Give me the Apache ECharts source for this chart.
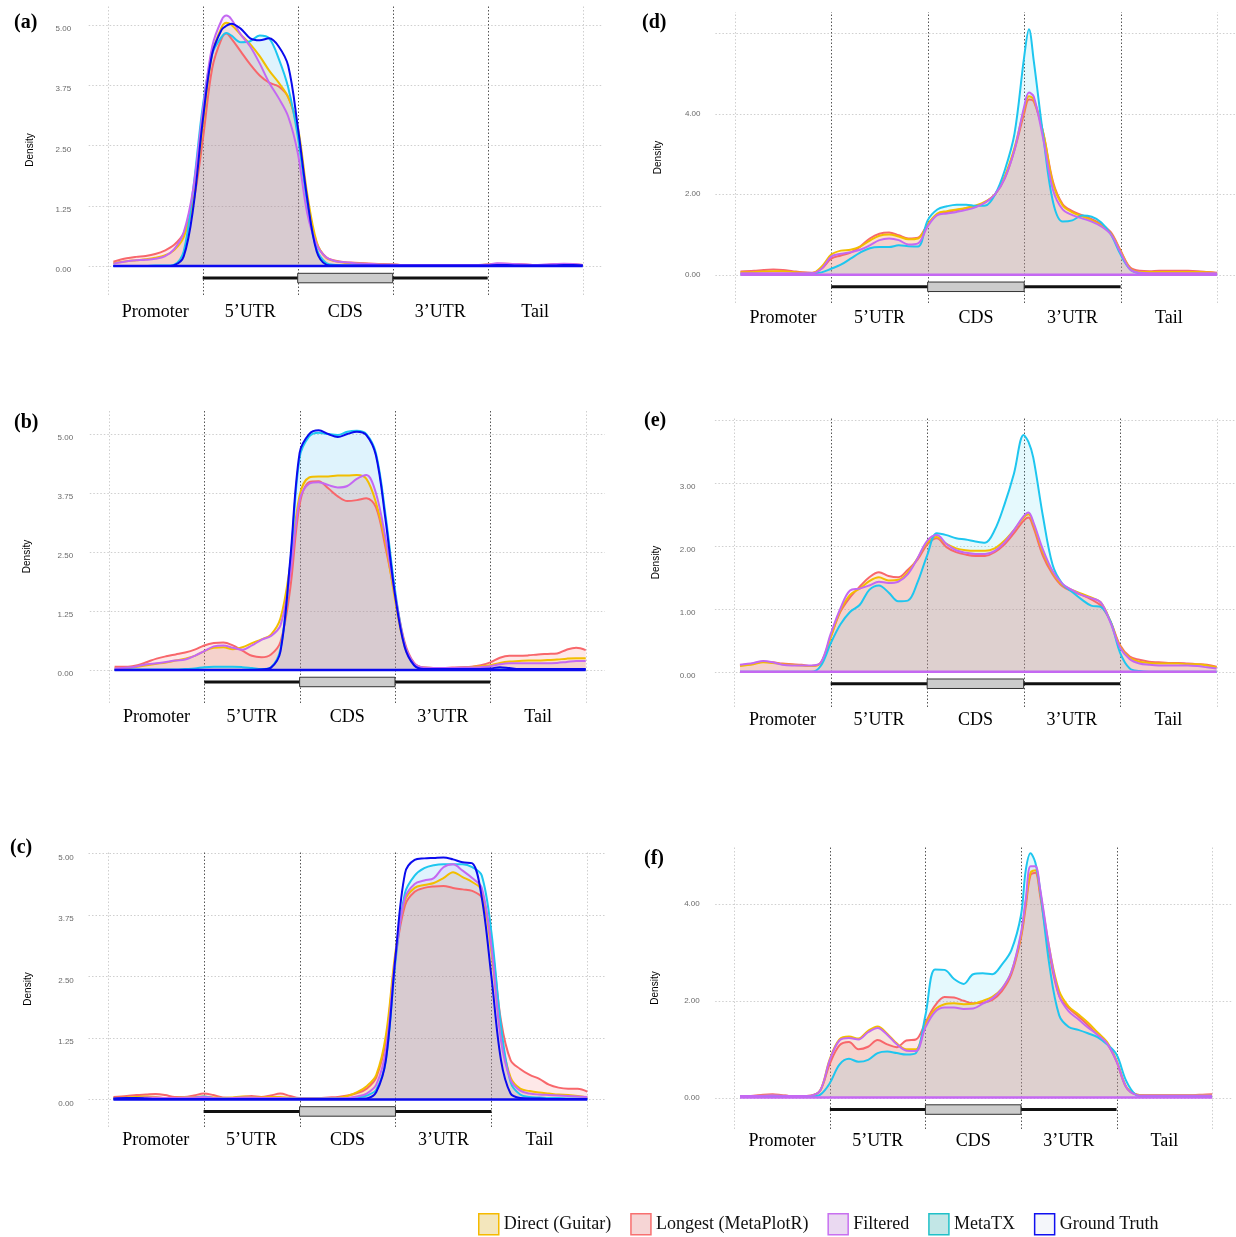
<!DOCTYPE html>
<html><head><meta charset="utf-8">
<script src="https://cdn.jsdelivr.net/npm/echarts@6/dist/echarts.min.js"></script>
<style>html,body{margin:0;padding:0;background:#fff}#c{width:1236px;height:1237px}</style>
</head><body><div id="c"></div>
<script>
// ---------------- data ----------------
const categories = ['Promoter', '5’UTR', 'CDS', '3’UTR', 'Tail'];
const categoryCenters = [0.5, 1.5, 2.5, 3.5, 4.5];
const regionBounds = [0, 1, 2, 3, 4, 5];
const transcriptSpan = [1, 4];
const cdsSpan = [2, 3];

const yTicksABC = [0, 1.25, 2.5, 3.75, 5];
const yGridD = [0, 2, 4, 6];
const yTicksD = [0, 2, 4];
const yGridE = [0, 1, 2, 3, 4];
const yTicksE = [0, 1, 2, 3];
const yTicksF = [0, 2, 4];

const xBase = [0.06,0.2,0.3,0.4,0.5,0.6,0.7,0.8,0.9,1.0,1.1,1.2,1.3,1.4,1.5,1.6,1.7,1.8,1.9,2.0,2.1,2.2,2.3,2.4,2.5,2.6,2.7,2.8,2.9,3.0,3.1,3.2,3.3,3.4,3.5,3.6,3.7,3.8,3.9,4.0,4.1,4.2,4.3,4.4,4.5,4.6,4.7,4.8,4.9,5.0];
const xA = [0.06,0.2,0.3,0.4,0.5,0.6,0.7,0.8,0.9,1.0,1.1,1.2,1.25,1.3,1.4,1.5,1.6,1.7,1.8,1.9,2.0,2.1,2.2,2.3,2.4,2.5,2.6,2.7,2.8,2.9,3.0,3.1,3.2,3.3,3.4,3.5,3.6,3.7,3.8,3.9,4.0,4.1,4.2,4.3,4.4,4.5,4.6,4.7,4.8,4.9,5.0];
const xDE = [0.06,0.2,0.3,0.4,0.5,0.6,0.7,0.8,0.9,1.0,1.1,1.2,1.3,1.4,1.5,1.6,1.7,1.8,1.9,2.0,2.1,2.2,2.3,2.4,2.5,2.6,2.7,2.8,2.9,3.0,3.05,3.1,3.2,3.3,3.4,3.5,3.6,3.7,3.8,3.9,4.0,4.1,4.2,4.3,4.4,4.5,4.6,4.7,4.8,4.9,5.0];
const xF = [0.06,0.2,0.3,0.4,0.5,0.6,0.7,0.8,0.9,1.0,1.1,1.2,1.3,1.4,1.5,1.6,1.7,1.8,1.9,2.0,2.1,2.2,2.3,2.4,2.5,2.6,2.7,2.8,2.9,3.0,3.05,3.1,3.15,3.2,3.3,3.4,3.5,3.6,3.7,3.8,3.9,4.0,4.1,4.2,4.3,4.4,4.5,4.6,4.7,4.8,4.9,5.0];

// (a)
const aLongest = [0.09,0.16,0.19,0.21,0.25,0.32,0.44,0.68,1.3,2.6,4.1,4.72,4.82,4.72,4.45,4.18,3.95,3.8,3.72,3.5,2.82,1.37,0.47,0.18,0.11,0.08,0.07,0.06,0.05,0.04,0.03,0.02,0.02,0.02,0.02,0.02,0.02,0.02,0.02,0.02,0.03,0.05,0.05,0.04,0.03,0.02,0.02,0.03,0.04,0.03,0.02];
const aDirect = [0.06,0.1,0.12,0.14,0.17,0.22,0.33,0.6,1.3,2.9,4.4,4.95,5.04,5.0,4.8,4.6,4.35,4.05,3.8,3.5,2.9,1.5,0.5,0.17,0.1,0.07,0.06,0.05,0.04,0.03,0.03,0.02,0.02,0.02,0.02,0.02,0.02,0.02,0.02,0.02,0.03,0.04,0.04,0.03,0.02,0.02,0.02,0.03,0.03,0.03,0.02];
const aMetaTX = [0,0,0,0,0.01,0.01,0.03,0.3,1.6,3.3,4.4,4.75,4.83,4.78,4.64,4.66,4.78,4.72,4.3,3.7,2.7,1.3,0.35,0.06,0.02,0.01,0.01,0.01,0.01,0.01,0.01,0.01,0.01,0.01,0.01,0.01,0.01,0.01,0.01,0.01,0.01,0.01,0.01,0.01,0.01,0.01,0.01,0.01,0.01,0.01,0.01];
const aFiltered = [0.05,0.1,0.12,0.13,0.15,0.2,0.35,0.7,1.6,3.2,4.55,5.1,5.19,5.12,4.8,4.55,4.2,3.8,3.48,3.1,2.35,1.1,0.45,0.18,0.1,0.08,0.06,0.05,0.04,0.03,0.03,0.02,0.02,0.02,0.02,0.02,0.02,0.02,0.02,0.02,0.03,0.06,0.05,0.04,0.03,0.02,0.03,0.04,0.05,0.04,0.02];
const aGround = [0,0,0,0,0,0,0.02,0.2,1.2,3.0,4.4,4.9,4.98,5.02,4.92,4.72,4.68,4.72,4.55,4.15,2.9,1.4,0.3,0.03,0.01,0.01,0.01,0.01,0.01,0.01,0.01,0.01,0.01,0.01,0.01,0.01,0.01,0.01,0.01,0.01,0.01,0.02,0.02,0.01,0.01,0.01,0.01,0.01,0.02,0.02,0.01];
// (b)
const bLongest = [0.07,0.07,0.1,0.17,0.24,0.29,0.33,0.37,0.43,0.52,0.57,0.58,0.52,0.41,0.3,0.27,0.33,0.6,1.7,3.5,3.98,4.0,3.85,3.68,3.58,3.6,3.64,3.45,2.6,1.6,0.6,0.15,0.05,0.04,0.04,0.05,0.06,0.07,0.1,0.16,0.26,0.3,0.3,0.31,0.33,0.34,0.35,0.43,0.47,0.42];
const bDirect = [0.03,0.04,0.07,0.1,0.13,0.16,0.2,0.24,0.3,0.4,0.47,0.48,0.44,0.48,0.57,0.65,0.75,1.1,2.2,3.7,4.08,4.1,4.1,4.12,4.12,4.13,4.05,3.55,2.7,1.5,0.5,0.13,0.05,0.04,0.04,0.04,0.05,0.06,0.08,0.1,0.15,0.18,0.19,0.2,0.2,0.21,0.22,0.24,0.25,0.25];
const bMetaTX = [0.01,0.01,0.01,0.01,0.01,0.01,0.01,0.02,0.03,0.06,0.07,0.07,0.07,0.06,0.04,0.02,0.06,0.45,2.2,4.5,4.95,5.03,5.0,4.98,5.05,5.07,5.0,4.6,3.3,1.7,0.55,0.12,0.03,0.01,0.01,0.01,0.01,0.01,0.01,0.01,0.01,0.01,0.01,0.01,0.01,0.01,0.01,0.01,0.01,0.01];
const bFiltered = [0.03,0.05,0.08,0.12,0.14,0.17,0.2,0.22,0.3,0.4,0.5,0.52,0.47,0.43,0.52,0.64,0.72,0.95,2.0,3.6,3.95,3.98,3.92,3.87,3.9,4.05,4.13,3.75,2.8,1.6,0.55,0.14,0.05,0.04,0.04,0.04,0.05,0.05,0.06,0.08,0.12,0.14,0.14,0.14,0.14,0.14,0.15,0.17,0.19,0.19];
const bGround = [0,0,0,0,0,0,0,0,0,0,0,0,0,0,0,0.01,0.05,0.4,2.3,4.6,5.0,5.08,5.0,4.94,5.0,5.05,4.98,4.55,3.2,1.6,0.5,0.1,0.02,0.02,0.02,0.02,0.02,0.02,0.02,0.03,0.06,0.04,0.02,0.02,0.02,0.02,0.02,0.02,0.02,0.02];
// (c)
const cLongest = [0.05,0.07,0.09,0.1,0.11,0.09,0.05,0.05,0.08,0.12,0.09,0.04,0.03,0.05,0.07,0.05,0.08,0.12,0.07,0.03,0.03,0.03,0.04,0.05,0.08,0.13,0.22,0.45,1.2,2.9,3.95,4.22,4.3,4.33,4.34,4.3,4.27,4.24,4.1,3.2,1.6,0.8,0.62,0.5,0.42,0.3,0.24,0.22,0.22,0.16];
const cDirect = [0.03,0.04,0.05,0.06,0.05,0.03,0.03,0.05,0.05,0.06,0.04,0.03,0.04,0.06,0.05,0.04,0.05,0.05,0.03,0.02,0.02,0.02,0.02,0.03,0.07,0.15,0.27,0.5,1.3,3.0,4.05,4.3,4.36,4.4,4.5,4.62,4.52,4.42,4.25,3.0,1.3,0.45,0.22,0.17,0.14,0.12,0.1,0.09,0.07,0.04];
const cMetaTX = [0.01,0.01,0.02,0.02,0.02,0.02,0.02,0.02,0.03,0.06,0.03,0.02,0.02,0.02,0.02,0.02,0.02,0.02,0.02,0.02,0.02,0.02,0.02,0.02,0.02,0.04,0.08,0.2,0.8,2.8,4.2,4.55,4.7,4.76,4.78,4.78,4.78,4.72,4.55,3.4,1.5,0.35,0.1,0.05,0.04,0.03,0.03,0.02,0.02,0.02];
const cFiltered = [0.02,0.03,0.03,0.04,0.04,0.03,0.03,0.04,0.04,0.05,0.03,0.02,0.03,0.04,0.04,0.03,0.03,0.03,0.02,0.02,0.02,0.02,0.02,0.02,0.03,0.06,0.12,0.3,1.0,2.9,4.1,4.38,4.45,4.5,4.72,4.78,4.65,4.5,4.3,3.1,1.2,0.4,0.18,0.12,0.1,0.09,0.08,0.07,0.06,0.05];
const cGround = [0.02,0.03,0.03,0.02,0.01,0.01,0.01,0.01,0.01,0.01,0.01,0.01,0.01,0.01,0.01,0.01,0.01,0.01,0.01,0.01,0.01,0.01,0.01,0.01,0.01,0.01,0.02,0.15,0.8,2.9,4.6,4.87,4.9,4.91,4.92,4.88,4.82,4.8,4.1,2.5,0.8,0.12,0.03,0.02,0.02,0.01,0.01,0.01,0.01,0.01];
// (d)
const dLongest = [0.08,0.1,0.12,0.13,0.12,0.09,0.06,0.05,0.15,0.4,0.48,0.55,0.7,0.9,1.02,1.05,0.98,0.9,0.92,1.25,1.5,1.56,1.6,1.65,1.7,1.8,2.0,2.4,3.1,4.0,4.35,4.3,3.5,2.3,1.75,1.58,1.48,1.38,1.25,1.05,0.6,0.18,0.1,0.09,0.1,0.1,0.1,0.1,0.09,0.07,0.05];
const dDirect = [0.06,0.07,0.08,0.09,0.09,0.07,0.05,0.04,0.2,0.5,0.6,0.62,0.7,0.85,0.97,1.0,0.95,0.88,0.9,1.25,1.52,1.58,1.62,1.66,1.72,1.82,2.0,2.45,3.15,4.1,4.43,4.35,3.5,2.25,1.72,1.55,1.45,1.35,1.22,1.02,0.58,0.15,0.07,0.07,0.07,0.07,0.07,0.07,0.07,0.06,0.04];
const dMetaTX = [0.02,0.02,0.02,0.02,0.02,0.02,0.02,0.03,0.06,0.15,0.25,0.4,0.55,0.66,0.69,0.69,0.73,0.71,0.7,1.35,1.62,1.7,1.74,1.74,1.71,1.72,2.0,2.6,3.5,5.4,6.09,5.3,3.4,1.8,1.32,1.35,1.47,1.44,1.3,1.0,0.5,0.13,0.03,0.01,0.01,0.01,0.01,0.01,0.01,0.01,0.01];
const dFiltered = [0.04,0.04,0.04,0.04,0.04,0.04,0.04,0.04,0.15,0.45,0.52,0.56,0.62,0.73,0.86,0.9,0.86,0.75,0.78,1.2,1.48,1.52,1.56,1.61,1.68,1.8,2.0,2.4,3.1,4.17,4.52,4.42,3.34,2.1,1.62,1.48,1.4,1.32,1.2,1.0,0.55,0.13,0.05,0.04,0.04,0.04,0.04,0.04,0.04,0.04,0.04];
// (e)
const eLongest = [0.1,0.13,0.16,0.15,0.13,0.12,0.11,0.09,0.15,0.55,0.95,1.18,1.35,1.5,1.58,1.52,1.5,1.62,1.78,2.02,2.12,1.98,1.9,1.86,1.84,1.84,1.9,2.02,2.2,2.4,2.45,2.3,1.84,1.55,1.36,1.28,1.22,1.15,1.05,0.8,0.42,0.24,0.19,0.16,0.15,0.14,0.14,0.13,0.12,0.11,0.08];
const eDirect = [0.09,0.12,0.15,0.14,0.12,0.11,0.1,0.09,0.14,0.55,0.97,1.22,1.32,1.44,1.5,1.45,1.46,1.58,1.8,2.05,2.14,2.03,1.96,1.93,1.92,1.92,1.96,2.08,2.25,2.45,2.5,2.35,1.9,1.58,1.38,1.3,1.24,1.18,1.1,0.8,0.4,0.22,0.16,0.14,0.13,0.13,0.13,0.12,0.12,0.1,0.07];
const eMetaTX = [0,0,0,0,0,0,0,0,0.1,0.45,0.75,0.95,1.06,1.3,1.37,1.26,1.12,1.13,1.42,1.85,2.2,2.17,2.12,2.1,2.07,2.05,2.25,2.65,3.15,3.76,3.65,3.4,2.47,1.7,1.4,1.27,1.15,1.05,1.03,0.8,0.3,0.05,0.01,0,0,0,0,0,0,0,0];
const eFiltered = [0.11,0.14,0.17,0.15,0.11,0.1,0.1,0.1,0.15,0.6,1.0,1.29,1.32,1.37,1.43,1.41,1.43,1.55,1.8,2.08,2.17,2.03,1.93,1.89,1.87,1.87,1.92,2.05,2.25,2.47,2.53,2.38,1.94,1.6,1.4,1.3,1.22,1.17,1.1,0.78,0.38,0.2,0.13,0.11,0.1,0.1,0.1,0.1,0.09,0.07,0.05];
// (f)
const fLongest = [0.03,0.04,0.06,0.07,0.05,0.03,0.03,0.04,0.15,0.7,1.08,1.15,1.0,1.05,1.19,1.1,1.04,1.18,1.2,1.55,1.9,2.08,2.07,2.0,1.95,1.96,2.02,2.2,2.55,3.3,3.95,4.6,4.65,4.18,2.95,2.1,1.85,1.68,1.5,1.3,1.12,0.75,0.22,0.07,0.05,0.05,0.05,0.05,0.05,0.05,0.06,0.07];
const fDirect = [0.03,0.03,0.04,0.05,0.04,0.03,0.03,0.04,0.15,0.8,1.2,1.26,1.22,1.38,1.47,1.32,1.12,1.0,1.0,1.5,1.82,1.93,1.95,1.93,1.94,2.0,2.08,2.25,2.6,3.35,4.05,4.65,4.7,4.25,3.05,2.2,1.88,1.72,1.55,1.35,1.15,0.77,0.23,0.07,0.05,0.05,0.05,0.05,0.05,0.05,0.05,0.05];
const fMetaTX = [0.02,0.02,0.02,0.02,0.02,0.02,0.02,0.02,0.06,0.3,0.68,0.8,0.74,0.78,0.92,0.95,0.92,0.89,0.92,1.7,2.65,2.64,2.45,2.35,2.55,2.57,2.55,2.75,3.05,3.77,4.7,5.05,4.86,4.3,2.7,1.7,1.46,1.4,1.33,1.25,1.1,0.89,0.35,0.06,0.02,0.02,0.02,0.02,0.02,0.02,0.02,0.02];
const fFiltered = [0.03,0.03,0.04,0.05,0.04,0.03,0.03,0.04,0.15,0.78,1.18,1.23,1.2,1.35,1.44,1.3,1.1,0.97,0.96,1.45,1.77,1.86,1.86,1.83,1.84,1.94,2.05,2.25,2.6,3.4,4.1,4.78,4.78,4.32,3.05,2.1,1.78,1.62,1.45,1.3,1.12,0.75,0.22,0.06,0.04,0.04,0.04,0.04,0.04,0.04,0.04,0.04];

// ---------------- styling ----------------
const SERIES = {
  Direct:   {name: 'Direct (Guitar)',     line: '#F2BE00', fill: 'rgba(242,190,0,0.20)',  key: '#F3E6BC', border: '#F5BA00'},
  Longest:  {name: 'Longest (MetaPlotR)', line: '#F8676B', fill: 'rgba(248,103,107,0.22)', key: '#F6D5D5', border: '#F87070'},
  Filtered: {name: 'Filtered',            line: '#C468F2', fill: 'rgba(196,104,242,0.18)', key: '#EAD9F1', border: '#C870F0'},
  MetaTX:   {name: 'MetaTX',              line: '#1EC6EF', fill: 'rgba(30,198,239,0.16)',  key: '#C2E6E6', border: '#20C0C8'},
  Ground:   {name: 'Ground Truth',        line: '#0A0AEE', fill: 'rgba(10,10,238,0.03)',   key: '#F4F6FA', border: '#1010F0'}
};
const DRAW_ORDER = ['Longest', 'Direct', 'MetaTX', 'Filtered', 'Ground'];
const LEGEND_ORDER = ['Direct', 'Longest', 'Filtered', 'MetaTX', 'Ground'];
const X_EXT = [-0.2, 5.2];

const panels = [
  {label: '(a)', x: xA, d: {Longest: aLongest, Direct: aDirect, MetaTX: aMetaTX, Filtered: aFiltered, Ground: aGround},
   grid: {left: 88.7, top: 5, width: 513, height: 290}, yMin: -0.60, yMax: 5.41, hGrid: yTicksABC, yLab: yTicksABC,
   shift: true, lblMargin: 17.6, nameGap: 53, xMargin: 8, title: [14, 13], base: 'Ground'},
  {label: '(b)', x: xBase, d: {Longest: bLongest, Direct: bDirect, MetaTX: bMetaTX, Filtered: bFiltered, Ground: bGround},
   grid: {left: 89.8, top: 410, width: 515, height: 293}, yMin: -0.70, yMax: 5.51, hGrid: yTicksABC, yLab: yTicksABC,
   shift: true, lblMargin: 16.7, nameGap: 58, xMargin: 5, title: [14, 413], base: 'Ground'},
  {label: '(c)', x: xBase, d: {Longest: cLongest, Direct: cDirect, MetaTX: cMetaTX, Filtered: cFiltered, Ground: cGround},
   grid: {left: 88.5, top: 851, width: 518, height: 276}, yMin: -0.56, yMax: 5.05, hGrid: yTicksABC, yLab: yTicksABC,
   shift: true, lblMargin: 14.7, nameGap: 55, xMargin: 4, title: [10, 838], base: 'Ground'},
  {label: '(d)', x: xDE, d: {Longest: dLongest, Direct: dDirect, MetaTX: dMetaTX, Filtered: dFiltered},
   grid: {left: 715.4, top: 12, width: 521, height: 291}, yMin: -0.70, yMax: 6.52, hGrid: yGridD, yLab: yTicksD,
   shift: false, lblMargin: 14.9, nameGap: 52, xMargin: 6, title: [642, 13], base: 'Filtered'},
  {label: '(e)', x: xDE, d: {Longest: eLongest, Direct: eDirect, MetaTX: eMetaTX, Filtered: eFiltered},
   grid: {left: 714.9, top: 418, width: 521, height: 289}, yMin: -0.56, yMax: 4.03, hGrid: yGridE, yLab: yTicksE,
   shift: true, lblMargin: 19.5, nameGap: 54, xMargin: 4, title: [644, 411], base: 'Filtered'},
  {label: '(f)', x: xF, d: {Longest: fLongest, Direct: fDirect, MetaTX: fMetaTX, Filtered: fFiltered},
   grid: {left: 715.2, top: 847, width: 516, height: 282}, yMin: -0.65, yMax: 5.18, hGrid: yTicksF, yLab: yTicksF,
   shift: false, lblMargin: 15.5, nameGap: 55, xMargin: 3, title: [644, 849], base: 'Filtered'}
];

const grids = [], xAxes = [], yAxes = [], series = [], titles = [];

function backgroundRender(p) {
  return function (params, api) {
    const kids = [];
    p.hGrid.forEach(v => {
      const a = api.coord([X_EXT[0], v]), b = api.coord([X_EXT[1], v]);
      const y = Math.round(a[1]) + 0.5;
      kids.push({type: 'line', shape: {x1: a[0], y1: y, x2: b[0], y2: y},
        style: {stroke: '#cfcfcf', lineWidth: 1, lineDash: [1.5, 2]}});
    });
    regionBounds.forEach((v, i) => {
      const a = api.coord([v, p.yMin]), b = api.coord([v, p.yMax]);
      const x = Math.round(a[0]) + 0.5;
      const inner = i > 0 && i < regionBounds.length - 1;
      kids.push({type: 'line', shape: {x1: x, y1: a[1], x2: x, y2: b[1]},
        style: {stroke: inner ? '#555555' : '#cfcfcf', lineWidth: 1, lineDash: [1.5, 2]}});
    });
    return {type: 'group', children: kids};
  };
}

function foregroundRender(p) {
  return function (params, api) {
    const z0 = api.coord([0, 0])[1];
    const b0 = api.coord([p.x[0], 0])[0], b1 = api.coord([p.x[p.x.length - 1], 0])[0];
    const gy = z0 + 12;
    const t0 = api.coord([transcriptSpan[0], 0])[0], t1 = api.coord([transcriptSpan[1], 0])[0];
    const c0 = api.coord([cdsSpan[0], 0])[0], c1 = api.coord([cdsSpan[1], 0])[0];
    return {type: 'group', children: [
      {type: 'line', shape: {x1: b0, y1: z0, x2: b1, y2: z0}, style: {stroke: SERIES[p.base].line, lineWidth: 2.5}},
      {type: 'line', shape: {x1: t0, y1: gy, x2: t1, y2: gy}, style: {stroke: '#111', lineWidth: 3}},
      {type: 'rect', shape: {x: c0, y: gy - 4.75, width: c1 - c0, height: 9.5},
        style: {fill: '#cccccc', stroke: '#333', lineWidth: 1}}
    ]};
  };
}

panels.forEach((p, i) => {
  grids.push(Object.assign({outerBoundsMode: 'none', containLabel: false}, p.grid));
  xAxes.push({
    type: 'value', gridIndex: i, min: X_EXT[0], max: X_EXT[1],
    axisLine: {show: false}, axisTick: {show: false}, splitLine: {show: false},
    axisLabel: {customValues: categoryCenters, formatter: v => categories[Math.floor(v)],
      fontFamily: 'Liberation Serif', fontSize: 18, color: '#000', margin: p.xMargin}
  });
  yAxes.push({
    type: 'value', gridIndex: i, min: p.yMin, max: p.yMax,
    axisLine: {show: false}, axisTick: {show: false}, splitLine: {show: false},
    name: 'Density', nameLocation: 'middle', nameGap: p.nameGap,
    nameTextStyle: {fontFamily: 'Liberation Sans', fontSize: 10, color: '#000'},
    axisLabel: {customValues: p.yLab, formatter: v => v.toFixed(2), fontFamily: 'Liberation Sans',
      fontSize: 8, color: '#6a6a6a', margin: p.lblMargin, verticalAlign: p.shift ? 'top' : 'middle'}
  });
  titles.push({text: p.label, left: p.title[0], top: p.title[1], padding: 0,
    textStyle: {fontFamily: 'Liberation Serif', fontWeight: 'bold', fontSize: 20, color: '#000'}});
  series.push({type: 'custom', name: 'bg' + i, xAxisIndex: i, yAxisIndex: i, z: 0, silent: true,
    clip: false, data: [[0, 0]], renderItem: backgroundRender(p)});
  DRAW_ORDER.forEach(k => {
    if (!p.d[k]) return;
    const s = SERIES[k];
    series.push({
      type: 'line', name: s.name, xAxisIndex: i, yAxisIndex: i, z: 2,
      data: p.x.map((xv, j) => [xv, p.d[k][j]]),
      smooth: 0.35, showSymbol: false, symbol: 'none', silent: true,
      lineStyle: {color: s.line, width: 2},
      itemStyle: {color: s.line},
      areaStyle: {color: s.fill, origin: 0},
      emphasis: {disabled: true}
    });
  });
  series.push({type: 'custom', name: 'fg' + i, xAxisIndex: i, yAxisIndex: i, z: 4, silent: true,
    clip: false, data: [[0, 0]], renderItem: foregroundRender(p)});
});

const chart = echarts.init(document.getElementById('c'), null, {renderer: 'canvas'});
chart.setOption({
  animation: false,
  backgroundColor: '#ffffff',
  title: titles,
  grid: grids,
  xAxis: xAxes,
  yAxis: yAxes,
  legend: {
    left: 473, top: 1208, itemWidth: 20, itemHeight: 21, itemGap: 19, icon: 'rect',
    selectedMode: false,
    lineStyle: {width: 0, opacity: 0},
    textStyle: {fontFamily: 'Liberation Serif', fontSize: 18, color: '#111'},
    data: LEGEND_ORDER.map(k => ({name: SERIES[k].name,
      itemStyle: {color: SERIES[k].key, borderColor: SERIES[k].border, borderWidth: 1.5},
      lineStyle: {width: 0, opacity: 0}}))
  },
  series: series
});
</script>
</body></html>
